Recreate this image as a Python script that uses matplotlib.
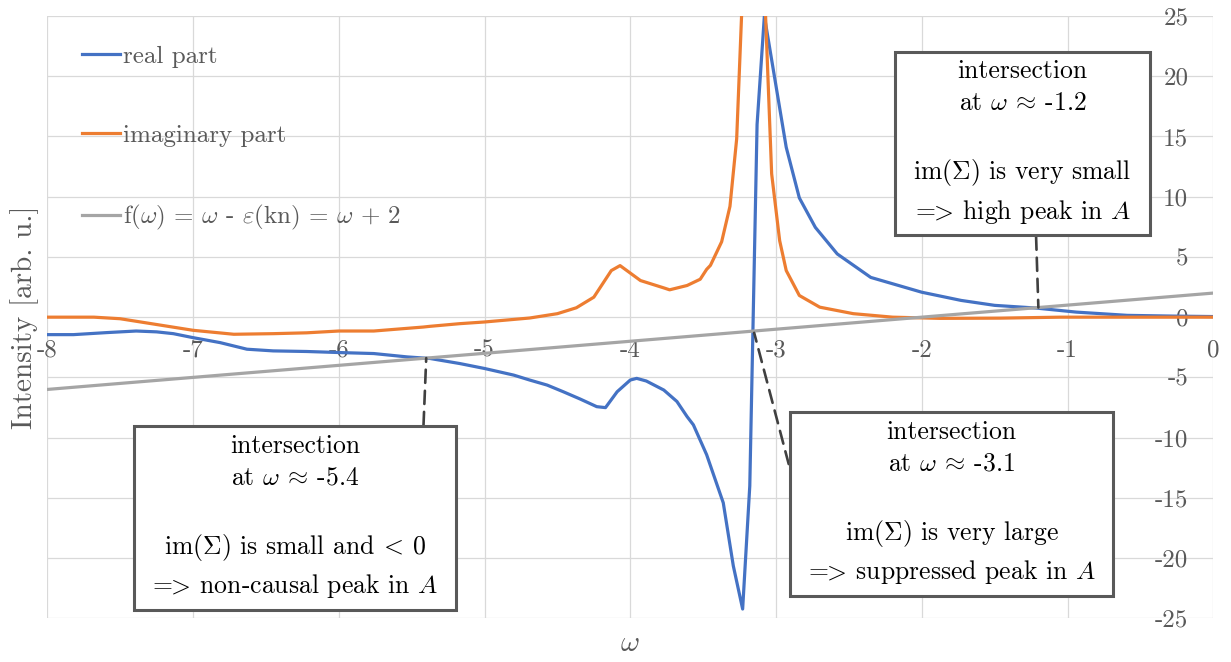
import matplotlib
matplotlib.use('Agg')
import matplotlib.pyplot as plt
from matplotlib.path import Path

plt.rcParams['font.family'] = ['cmr10']
plt.rcParams['mathtext.fontset'] = 'cm'
plt.rcParams['axes.unicode_minus'] = False

# real part of the self energy
omega_real = [-8.0, -7.82, -7.59, -7.39, -7.25, -7.135, -7.0, -6.815, -6.63, -6.45,
              -6.22, -5.99, -5.76, -5.53, -5.374, -5.17, -5.0, -4.80, -4.69, -4.57,
              -4.46, -4.345, -4.23, -4.17, -4.09, -4.0, -3.956, -3.89, -3.77, -3.68,
              -3.61, -3.567, -3.476, -3.362, -3.293, -3.229, -3.18, -3.13, -3.08,
              -2.93, -2.84, -2.73, -2.58, -2.35, -2.0, -1.73, -1.5, -1.22, -0.94,
              -0.59, -0.28, 0.0]
real_part = [-1.45, -1.45, -1.28, -1.15, -1.22, -1.37, -1.70, -2.11, -2.66, -2.80,
             -2.85, -2.94, -3.02, -3.30, -3.43, -3.85, -4.26, -4.81, -5.22, -5.64,
             -6.19, -6.79, -7.43, -7.51, -6.19, -5.22, -5.08, -5.30, -6.05, -7.0,
             -8.26, -8.94, -11.42, -15.41, -20.65, -24.23, -14.0, 16.0, 25.0,
             14.1, 9.9, 7.45, 5.25, 3.3, 2.07, 1.39, 0.98, 0.76, 0.42,
             0.15, 0.09, 0.05]

# imaginary part
omega_imag = [-8.0, -7.68, -7.5, -7.0, -6.72, -6.45, -6.22, -6.0, -5.76, -5.42,
              -5.374, -5.17, -5.0, -4.69, -4.5, -4.37, -4.25, -4.13, -4.07, -3.93,
              -3.77, -3.73, -3.61, -3.52, -3.476, -3.45, -3.373, -3.316, -3.27,
              -3.22, -3.17, -3.12, -3.07, -3.03, -2.975, -2.93, -2.84, -2.70,
              -2.47, -2.20, -1.875, -1.46, -1.05, 0.0]
imag_part = [0.0, 0.0, -0.13, -1.09, -1.42, -1.37, -1.30, -1.15, -1.15, -0.82,
             -0.76, -0.54, -0.40, -0.07, 0.29, 0.78, 1.66, 3.87, 4.28, 3.04,
             2.43, 2.27, 2.63, 3.15, 3.97, 4.3, 6.26, 9.2, 14.8,
             30.0, 48.0, 40.0, 24.5, 11.9, 6.35, 3.87, 1.8, 0.83,
             0.29, 0.0, -0.1, -0.08, 0.0, 0.0]

# f(w) = w - e(kn)
omega_f = [-8, -7, -6, -5, -4, -3, -2, -1, 0]
f_line = [-6, -5, -4, -3, -2, -1, 0, 1, 2]

x_ticks = [-8, -7, -6, -5, -4, -3, -2, -1, 0]
x_tick_labels = ['-8', '-7', '-6', '-5', '-4', '-3', '-2', '-1', '0']
y_ticks = [-25, -20, -15, -10, -5, 0, 5, 10, 15, 20, 25]
y_tick_labels = ['-25', '-20', '-15', '-10', '-5', '0', '5', '10', '15', '20', '25']

labels = ['real part', 'imaginary part',
          r'f($\omega$) = $\omega$ - $\varepsilon$(kn) = $\omega$ + 2']

notes = [
    'intersection\n' r'at $\omega$ $\!\approx\!$ -5.4' '\n\n'
    r'im($\Sigma$) is small and $\!<\!$ 0' '\n' r'$\!=\!\!\!>\!$ non-causal peak in $A$',
    'intersection\n' r'at $\omega$ $\!\approx\!$ -3.1' '\n\n'
    r'im($\Sigma$) is very large' '\n' r'$\!=\!\!\!>\!$ suppressed peak in $A$',
    'intersection\n' r'at $\omega$ $\!\approx\!$ -1.2' '\n\n'
    r'im($\Sigma$) is very small' '\n' r'$\!=\!\!\!>\!$ high peak in $A$',
]
note_points = [(-5.4, -3.4), (-3.15, -1.3), (-1.2, 0.8)]
note_centers = [(-6.30, -16.6), (-1.795, -15.45), (-1.308, 14.5)]
note_relpos = [(0.948, 1.0), (0.0, 0.30), (0.56, 0.0)]

blue = '#4472C4'
orange = '#ED7D31'
gray = '#A5A5A5'
text_gray = '#595959'


# text box that is wider than it is tall in padding
def note_box(x0, y0, width, height, mutation_size):
    px = 0.7 * mutation_size
    py = 0.38 * mutation_size
    x0, y0 = x0 - px, y0 - py
    x1, y1 = x0 + width + 2 * px, y0 + height + 2 * py
    return Path([(x0, y0), (x1, y0), (x1, y1), (x0, y1), (x0, y0)], closed=True)


fig = plt.figure(figsize=(12.31, 6.62), dpi=100)
ax = fig.add_axes([0.0384, 0.066, 0.9472, 0.9098])

ax.plot(omega_real, real_part, color=blue, lw=2.3, label=labels[0], zorder=3)
ax.plot(omega_imag, imag_part, color=orange, lw=2.3, label=labels[1], zorder=3)
ax.plot(omega_f, f_line, color=gray, lw=2.3, label=labels[2], zorder=3)

ax.set_xlim(-8, 0)
ax.set_ylim(-25, 25)
ax.set_xticks(x_ticks, x_tick_labels)
ax.set_yticks(y_ticks, y_tick_labels)
ax.grid(True, color='#D9D9D9', lw=0.9)
ax.set_axisbelow(True)

for s in ax.spines.values():
    s.set_visible(False)
ax.spines['bottom'].set_position(('data', 0))

ax.tick_params(axis='x', length=0, pad=16, labelsize=18, labelcolor=text_gray)
ax.yaxis.tick_right()
ax.tick_params(axis='y', length=0, pad=-18, labelsize=18, labelcolor=text_gray)
for lab in ax.get_yticklabels():
    lab.set_horizontalalignment('right')

ax.set_ylabel('Intensity [arb. u.]', fontsize=21, color=text_gray, labelpad=6)
ax.yaxis.set_label_position('left')
ax.set_xlabel(r'$\omega$', fontsize=21, color=text_gray)
ax.xaxis.set_label_coords(0.5, -0.02)

leg = ax.legend(loc='upper left', bbox_to_anchor=(0.021, 0.968), borderaxespad=0,
                frameon=False, fontsize=18, handlelength=1.52, handletextpad=0.12,
                labelspacing=2.25)
for t in leg.get_texts():
    t.set_color(text_gray)

for txt, pt, ctr, rp in zip(notes, note_points, note_centers, note_relpos):
    ax.annotate(txt, xy=pt, xytext=ctr, ha='center', va='center',
                multialignment='center', fontsize=18.5, linespacing=1.45, zorder=6,
                bbox=dict(boxstyle=note_box, fc='white', ec=text_gray, lw=2.2),
                arrowprops=dict(arrowstyle='-', color='#404040', lw=1.9,
                                linestyle=(0, (5, 3)), relpos=rp,
                                shrinkA=0, shrinkB=0))

fig.savefig('out.png', dpi=100)
